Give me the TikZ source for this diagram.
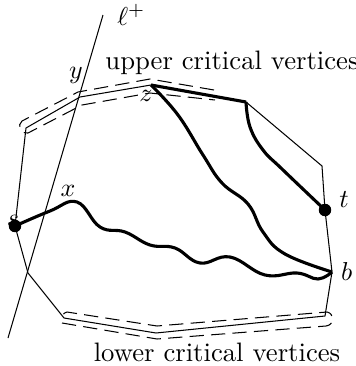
\documentclass[tikz,border=0pt]{standalone}
\begin{document}
\begin{tikzpicture}[x=0.386pt, y=-0.386pt, font=\fontsize{10.3}{12}\selectfont]
	\tikzset{
		hull/.style={line width=0.4pt},
		route/.style={line width=1.2pt, line join=round},
		band/.style={dash pattern=on 5.5pt off 2.8pt, line width=0.4pt},
	}
	\useasboundingbox (0,0) rectangle (356,366);
	
	% Đỉnh của đa giác
	\coordinate (P1) at (26,128);
	\coordinate (Y) at (80,97);
	\coordinate (Z) at (151,85);
	\coordinate (P4) at (246,102);
	\coordinate (P5) at (322,166);
	\coordinate (T) at (325,210);
	\coordinate (B) at (332,272);
	\coordinate (P8) at (325,316);
	\coordinate (P9) at (156,333);
	\coordinate (P10) at (64,318);
	\coordinate (P11) at (28,273);
	\coordinate (S) at (15,226);
	
	% Đa giác
	\draw[hull] (P1) -- (Y) -- (Z) -- (P4) -- (P5) -- (T) -- (B) -- (P8) -- (P9) -- (P10) -- (P11) -- (S) -- cycle;
	
	% Đường thẳng l+
	\coordinate (L1) at (103,15);
	\coordinate (L2) at (8,338);
	\draw[hull] (L2) -- (L1) node[right, xshift=2pt]{$\ell^+$};
	
	% Dải đỉnh tới hạn trên
	\draw[band] (214,90) -- (150,79) -- (78,92) -- (22,121)
		.. controls (17,125) and (20,134) .. (28,133)
		-- (82,105) -- (150,93) -- (215,100);
	% Dải đỉnh tới hạn dưới
	\draw[band] (62,323) -- (157,339) -- (326,326)
		.. controls (335,325) and (334,313) .. (327,312)
		-- (157,326) -- (67,312) .. controls (63,313) and (62,316) .. (63,318);
	
	% Các đường đi đậm
	\draw[route] (Z) -- (P4);
	\draw[route] plot[smooth, tension=0.7] coordinates {(P4) (250,127) (263,150) (282,169) (T)};
	\draw[route] plot[smooth, tension=0.7] coordinates {(Z) (178,115) (203,155) (222,183) (248,204) (263,232) (285,254) (B)};
	\draw[route] plot[smooth, tension=0.7] coordinates {(S) (50,211) (77,202) (100,227) (125,232) (150,245) (175,248) (200,263) (230,257) (265,275) (297,273) (318,279) (B)};
	
	% Nhãn
	\node at (13,221) {$s$};
	\filldraw (S) circle (2.2pt);
	\filldraw (T) circle (2.2pt) node[right, xshift=2pt, yshift=4pt]{$t$};
	\node[right] at (B) {$b$};
	\node at (76,75) {$y$};
	\node at (68,191) {$x$};
	\node at (146,96) {$z$};
	\node at (232,63) {upper critical vertices};
	\node at (217,352) {lower critical vertices};
\end{tikzpicture}
\end{document}
